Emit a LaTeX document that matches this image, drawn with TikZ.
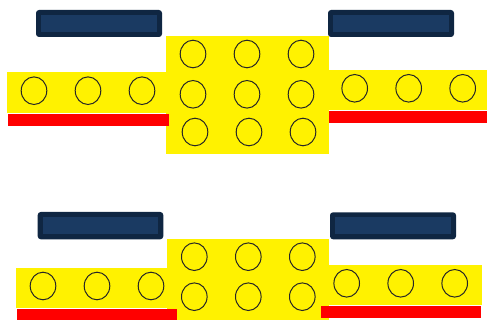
\documentclass[tikz,border=0pt]{standalone}
\usepackage{tikz}

\definecolor{navyedge}{RGB}{15,38,66}
\definecolor{navyfill}{RGB}{26,58,98}
\tikzset{
  brick/.style={fill=yellow},
  redbase/.style={fill=red},
  stud/.style={draw=black!85,line width=1pt},
  plate/.style={fill=navyedge,rounded corners=3pt},
  plateinner/.style={fill=navyfill}
}

\begin{document}
\begin{tikzpicture}[x=1pt,y=-1pt]
  \useasboundingbox (0,0) rectangle (487,320);
  % top assembly
  \fill[plate] (36,10) rectangle (162,37);
  \fill[plateinner] (41,15) rectangle (157,32);
  \fill[plate] (328,10) rectangle (454,37);
  \fill[plateinner] (333,15) rectangle (449,32);
  \fill[brick] (166,36) rectangle (329,154);
  \fill[brick] (7,72) rectangle (166,113);
  \fill[brick] (328,70) rectangle (487,110);
  \fill[redbase] (8,114) rectangle (169,125.7);
  \fill[redbase] (329,111) rectangle (487,122.7);
  \foreach \x in {34,88,142}
    \draw[stud] (\x,90.7) ellipse [x radius=12.8,y radius=13.8];
  \foreach \x in {193,247,301} {
    \draw[stud] (\x,54) ellipse [x radius=12.8,y radius=13.8];
    \draw[stud] (\x,94.3) ellipse [x radius=12.8,y radius=13.8];
    \draw[stud] (\x+2,132) ellipse [x radius=12.8,y radius=13.8];
  }
  \foreach \x in {354.7,408.7,462.7}
    \draw[stud] (\x,88.3) ellipse [x radius=12.8,y radius=13.8];
  % bottom assembly
  \fill[plate] (37.7,212) rectangle (163.3,239.3);
  \fill[plateinner] (42.7,217) rectangle (158.3,234.3);
  \fill[plate] (330,212.3) rectangle (456,239.3);
  \fill[plateinner] (335,217.3) rectangle (451,234.3);
  \fill[brick] (166.7,239) rectangle (329,320);
  \fill[brick] (16,267.7) rectangle (166.7,307.7);
  \fill[brick] (329,265) rectangle (481.7,305);
  \fill[redbase] (17,309) rectangle (176.7,320);
  \fill[redbase] (321,306) rectangle (480.7,318);
  \foreach \x in {194.3,248.3,302.3} {
    \draw[stud] (\x,256.7) ellipse [x radius=12.8,y radius=13.8];
    \draw[stud] (\x,296.7) ellipse [x radius=12.8,y radius=13.8];
  }
  \foreach \x in {43,97,151}
    \draw[stud] (\x,286) ellipse [x radius=12.8,y radius=13.8];
  \foreach \x in {346.7,400.7,454.7}
    \draw[stud] (\x,283.3) ellipse [x radius=12.8,y radius=13.8];
\end{tikzpicture}
\end{document}
